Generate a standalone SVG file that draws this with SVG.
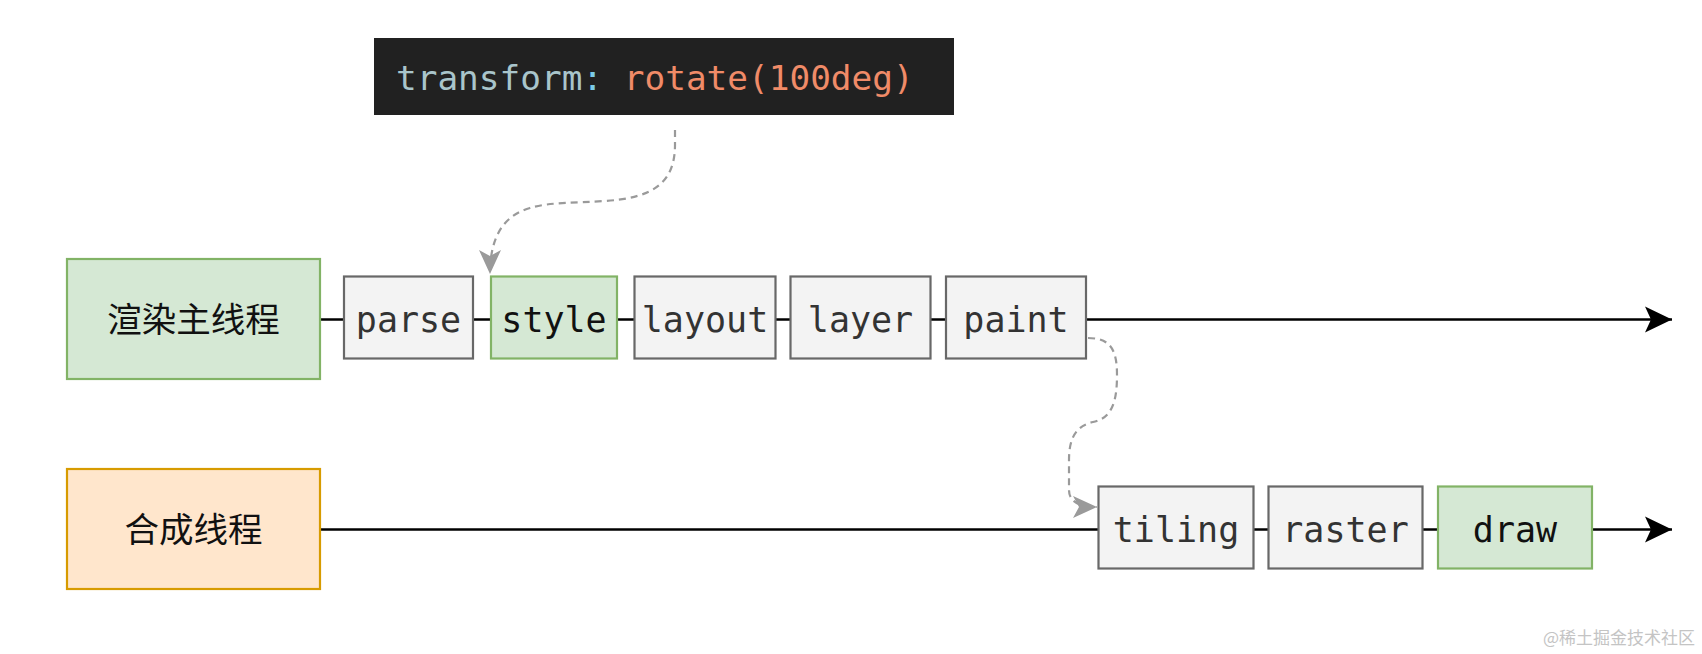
<svg xmlns="http://www.w3.org/2000/svg" width="1702" height="654" viewBox="0 0 1702 654">
<style>
.g{fill:#f3f3f3;stroke:#686868;stroke-width:2.2}
.gr{fill:#d5e8d4;stroke:#82b366;stroke-width:2.2}
.or{fill:#ffe6cc;stroke:#d79b00;stroke-width:2.2}
.m{font-family:"DejaVu Sans Mono","Liberation Mono",monospace;font-size:35px;text-anchor:middle;fill:#333333}
.mb{fill:#111111}
.cn{font-family:"Noto Sans CJK SC","Noto Sans",sans-serif;font-size:34.5px;text-anchor:middle;fill:#111111}
.ln{stroke:#000;stroke-width:2.5;fill:none}
.dl{stroke:#9a9a9a;stroke-width:2.2;fill:none;stroke-dasharray:7 5}
</style>
<defs>
<marker id="ab" markerUnits="userSpaceOnUse" markerWidth="30" markerHeight="30" refX="27" refY="13" orient="auto" viewBox="0 0 30 26">
<path d="M27,13 L0,0 L6,13 L0,26 Z" fill="#000"/>
</marker>
<marker id="ag" markerUnits="userSpaceOnUse" markerWidth="28" markerHeight="24" refX="24" refY="11" orient="auto" viewBox="0 0 28 22">
<path d="M24,11 L0,0 L6,11 L0,22 Z" fill="#9a9a9a"/>
</marker>
</defs>
<rect width="1702" height="654" fill="#ffffff"/>
<g id="connectors">
<line class="ln" x1="321" y1="319.5" x2="343" y2="319.5"/>
<line class="ln" x1="473" y1="319.5" x2="490" y2="319.5"/>
<line class="ln" x1="618" y1="319.5" x2="634" y2="319.5"/>
<line class="ln" x1="776" y1="319.5" x2="790" y2="319.5"/>
<line class="ln" x1="931" y1="319.5" x2="945" y2="319.5"/>
<line class="ln" x1="1087" y1="319.5" x2="1672" y2="319.5" marker-end="url(#ab)"/>
<line class="ln" x1="321" y1="529.5" x2="1098" y2="529.5"/>
<line class="ln" x1="1254" y1="529.5" x2="1268" y2="529.5"/>
<line class="ln" x1="1423" y1="529.5" x2="1437" y2="529.5"/>
<line class="ln" x1="1593" y1="529.5" x2="1672" y2="529.5" marker-end="url(#ab)"/>
<path class="dl" d="M675,130 L675,145 C675,185 650,198 605,201 C575,203 550,202 530,208 C505,215 490,235 490,274" marker-end="url(#ag)"/>
<path class="dl" d="M1088,338 C1112,338 1117,352 1117,375 C1117,402 1112,418 1093,422 C1076,426 1069,438 1069,460 L1069,490 C1069,502 1080,507 1097,507" marker-end="url(#ag)"/>
</g>
<g id="code">
<rect x="374" y="38" width="580" height="77" fill="#212121"/>
<text x="396" y="89.5" font-family="DejaVu Sans Mono, Liberation Mono, monospace" font-size="34.4"><tspan fill="#a9c5cb">transform</tspan><tspan fill="#7ccbe8">:</tspan><tspan fill="#a9c5cb"> </tspan><tspan fill="#f08b68">rotate(100deg)</tspan></text>
</g>
<g id="main-thread">
<rect class="gr" x="67" y="259" width="253" height="120"/>
<text class="cn" x="193.5" y="332">渲染主线程</text>
</g>
<g id="parse"><rect class="g" x="344" y="276.5" width="129" height="82"/><text class="m" x="408.5" y="331.5">parse</text></g>
<g id="style"><rect class="gr" x="491" y="276.5" width="126" height="82"/><text class="m mb" x="554" y="331.5">style</text></g>
<g id="layout"><rect class="g" x="634.5" y="276.5" width="141" height="82"/><text class="m" x="705" y="331.5">layout</text></g>
<g id="layer"><rect class="g" x="790.5" y="276.5" width="140" height="82"/><text class="m" x="860.5" y="331.5">layer</text></g>
<g id="paint"><rect class="g" x="946" y="276.5" width="140" height="82"/><text class="m" x="1016" y="331.5">paint</text></g>
<g id="compositor-thread">
<rect class="or" x="67" y="469" width="253" height="120"/>
<text class="cn" x="193.5" y="542">合成线程</text>
</g>
<g id="tiling"><rect class="g" x="1098.5" y="486.5" width="155" height="82"/><text class="m" x="1176" y="541.5">tiling</text></g>
<g id="raster"><rect class="g" x="1268.5" y="486.5" width="154" height="82"/><text class="m" x="1345.5" y="541.5">raster</text></g>
<g id="draw"><rect class="gr" x="1438" y="486.5" width="154" height="82"/><text class="m mb" x="1515" y="541.5">draw</text></g>
<text x="1695" y="644" text-anchor="end" font-family="Noto Sans CJK SC, Noto Sans, sans-serif" font-size="17" fill="#c4c4c4">@稀土掘金技术社区</text>
</svg>
